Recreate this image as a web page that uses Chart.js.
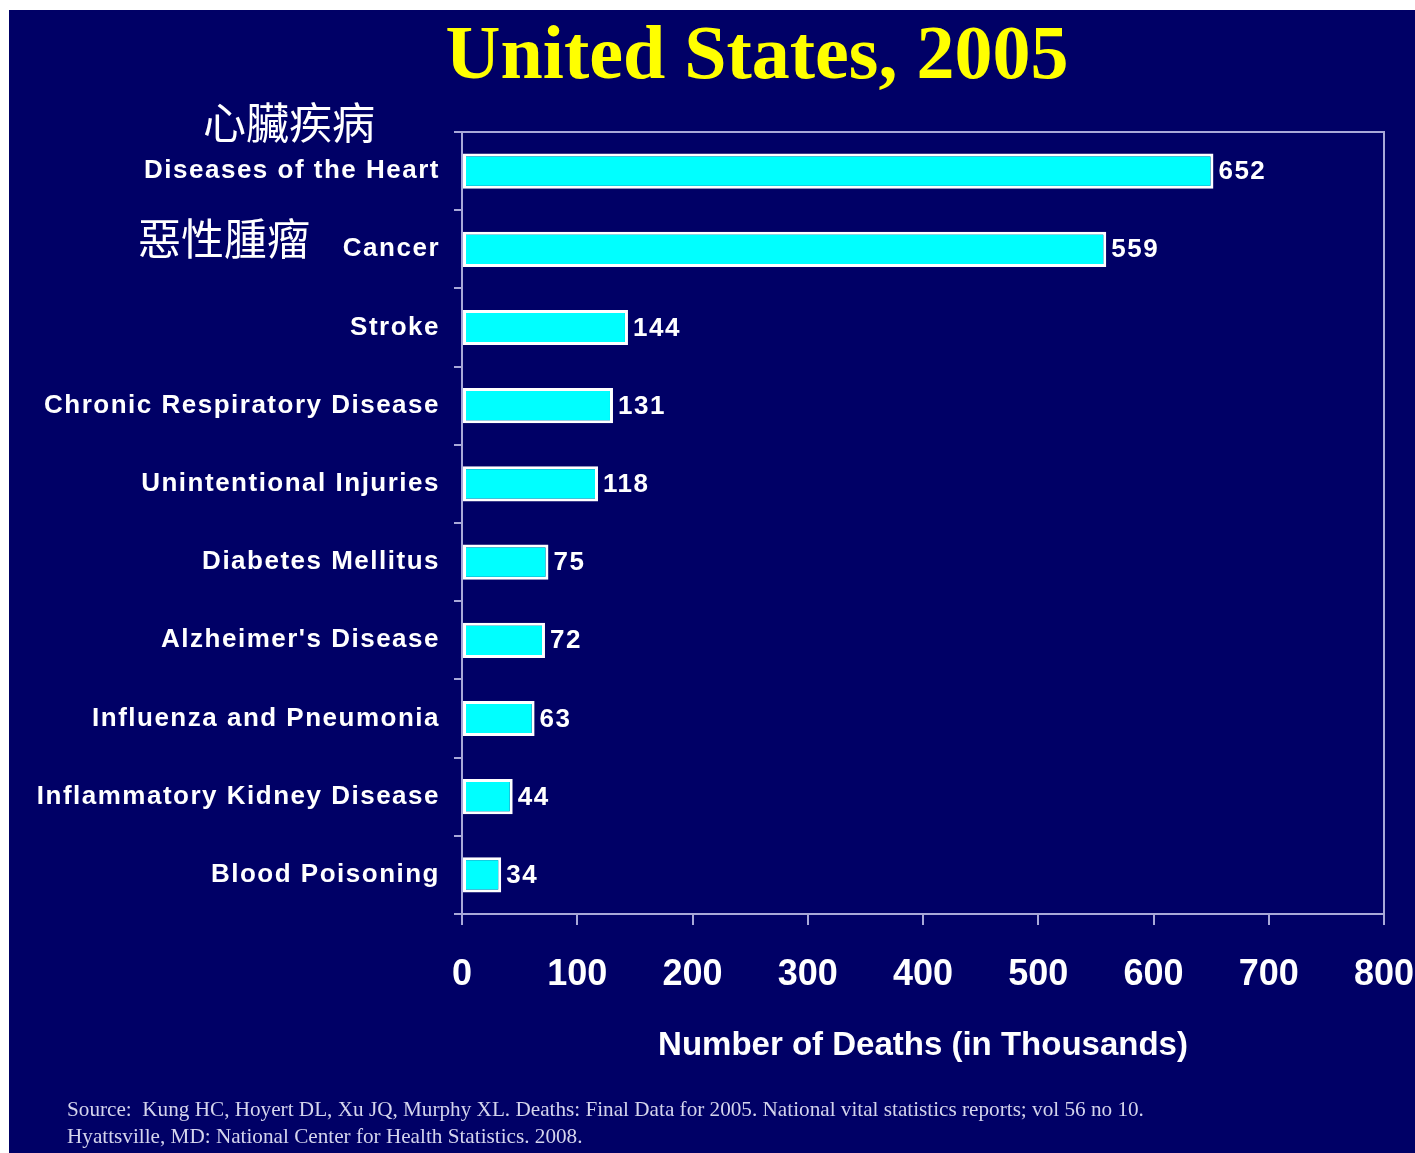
<!DOCTYPE html>
<html>
<head>
<meta charset="utf-8">
<title>United States, 2005</title>
<script src="https://cdn.jsdelivr.net/npm/chart.js@4.4.1/dist/chart.umd.min.js"></script>
<style>
    html, body { margin: 0; padding: 0; background: #fff; }
    canvas { display: block; }
</style>
</head>
<body>
<canvas id="deathsChart" width="1415" height="1153"></canvas>
<script>
const causes = [
    'Diseases of the Heart',
    'Cancer',
    'Stroke',
    'Chronic Respiratory Disease',
    'Unintentional Injuries',
    'Diabetes Mellitus',
    "Alzheimer's Disease",
    'Influenza and Pneumonia',
    'Inflammatory Kidney Disease',
    'Blood Poisoning',
];
const deaths = [652, 559, 144, 131, 118, 75, 72, 63, 44, 34];
const xTickValues = [0, 100, 200, 300, 400, 500, 600, 700, 800];
const chineseNotes = ['心臟疾病', '惡性腫瘤'];
const chartTitle = 'United States, 2005';
const axisTitle = 'Number of Deaths (in Thousands)';
const sourceLines = [
    'Source:  Kung HC, Hoyert DL, Xu JQ, Murphy XL. Deaths: Final Data for 2005. National vital statistics reports; vol 56 no 10.',
    'Hyattsville, MD: National Center for Health Statistics. 2008.',
];

const NAVY = '#000066';
const FRAME = '#a8a8d8';

const slidePlugin = {
    id: 'slide',
    beforeDraw(chart) {
        const ctx = chart.ctx;
        ctx.save();
        ctx.fillStyle = '#ffffff';
        ctx.fillRect(0, 0, chart.width, chart.height);
        ctx.fillStyle = NAVY;
        ctx.fillRect(9, 10, chart.width - 9, chart.height - 10);
        ctx.restore();
    },
    beforeDatasetsDraw(chart) {
        // top and right edges of the plot frame
        const { ctx, chartArea: a } = chart;
        ctx.save();
        ctx.strokeStyle = FRAME;
        ctx.lineWidth = 2;
        ctx.beginPath();
        ctx.moveTo(a.left, a.top);
        ctx.lineTo(a.right, a.top);
        ctx.lineTo(a.right, a.bottom);
        ctx.stroke();
        ctx.restore();
    },
    afterDatasetsDraw(chart) {
        // value labels; spacing stays on for the y tick labels drawn next
        const ctx = chart.ctx;
        ctx.letterSpacing = '1.5px';
        ctx.save();
        ctx.fillStyle = '#ffffff';
        ctx.font = 'bold 26px "Liberation Sans", Arial, sans-serif';
        ctx.textAlign = 'left';
        ctx.textBaseline = 'middle';
        chart.getDatasetMeta(0).data.forEach((bar, i) => {
            ctx.fillText(String(deaths[i]), bar.x + 5, bar.y + 1);
        });
        ctx.restore();
    },
    afterDraw(chart) {
        const ctx = chart.ctx;
        const y = chart.scales.y;
        ctx.letterSpacing = '0px';
        ctx.save();

        ctx.fillStyle = '#ffff00';
        ctx.font = 'bold 76px "Liberation Serif", "Times New Roman", serif';
        ctx.textAlign = 'center';
        ctx.textBaseline = 'alphabetic';
        ctx.fillText(chartTitle, 757, 78);

        ctx.fillStyle = '#ffffff';
        ctx.font = '43px "Noto Sans CJK TC", sans-serif';
        ctx.textAlign = 'right';
        ctx.textBaseline = 'middle';
        ctx.fillText(chineseNotes[0], 375, y.getPixelForValue(0) - 48);
        ctx.fillText(chineseNotes[1], 310, y.getPixelForValue(1) - 11);

        ctx.fillStyle = '#d4d4ec';
        ctx.font = '21.2px "Liberation Serif", "Times New Roman", serif';
        ctx.textAlign = 'left';
        ctx.fillText(sourceLines[0], 67, 1110);
        ctx.fillText(sourceLines[1], 67, 1137);
        ctx.restore();
    },
};

new Chart(document.getElementById('deathsChart'), {
    type: 'bar',
    data: {
        labels: causes,
        datasets: [
            {
                data: deaths,
                backgroundColor: '#00ffff',
                borderColor: '#ffffff',
                borderWidth: 3,
                borderSkipped: false,
                categoryPercentage: 1,
                barPercentage: 0.45,
            },
        ],
    },
    options: {
        indexAxis: 'y',
        responsive: false,
        animation: false,
        layout: {
            padding: { top: 132, right: 31, left: 0, bottom: 0 },
        },
        plugins: {
            legend: { display: false },
            tooltip: { enabled: false },
        },
        scales: {
            x: {
                type: 'linear',
                min: 0,
                max: 800,
                afterBuildTicks: (scale) => {
                    scale.ticks = xTickValues.map((v) => ({ value: v }));
                },
                afterFit: (scale) => {
                    scale.height = 239;
                    scale.paddingLeft = 0;
                    scale.paddingRight = 0;
                },
                grid: {
                    drawOnChartArea: false,
                    tickLength: 11,
                    color: FRAME,
                    lineWidth: 2,
                },
                border: { color: FRAME, width: 2 },
                ticks: {
                    color: '#ffffff',
                    padding: 28,
                    maxRotation: 0,
                    font: { family: '"Liberation Sans", Arial, sans-serif', size: 36, weight: 'bold' },
                },
                title: {
                    display: true,
                    text: axisTitle,
                    color: '#ffffff',
                    padding: { top: 0, bottom: 87 },
                    font: { family: '"Liberation Sans", Arial, sans-serif', size: 33, weight: 'bold' },
                },
            },
            y: {
                afterFit: (scale) => {
                    scale.width = 462;
                    scale.paddingTop = 0;
                    scale.paddingBottom = 0;
                },
                grid: {
                    offset: true,
                    drawOnChartArea: false,
                    tickLength: 8,
                    color: FRAME,
                    lineWidth: 2,
                },
                border: { color: FRAME, width: 2 },
                ticks: {
                    z: 1,
                    color: '#ffffff',
                    padding: 14,
                    autoSkip: false,
                    font: { family: '"Liberation Sans", Arial, sans-serif', size: 26, weight: 'bold' },
                },
            },
        },
    },
    plugins: [slidePlugin],
});
</script>
</body>
</html>
